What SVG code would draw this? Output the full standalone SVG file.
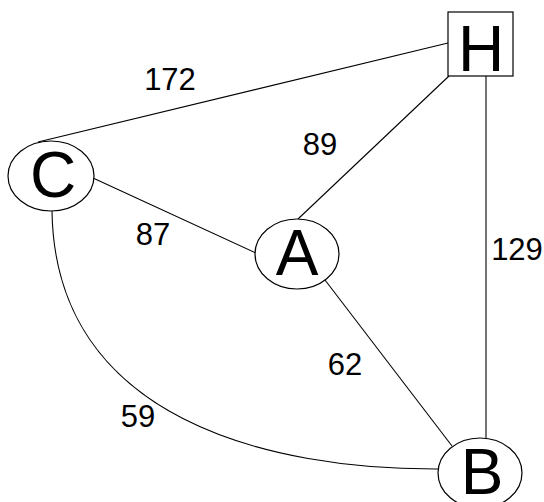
<svg xmlns="http://www.w3.org/2000/svg" width="544" height="502" viewBox="0 0 544 502">
<style>
.node{fill:#fff;stroke:#000;stroke-width:1.2}
.lbl{font-family:"Liberation Sans",Arial,sans-serif;font-size:64px;text-anchor:middle;fill:#000}
.w{font-family:"Liberation Sans",Arial,sans-serif;font-size:31px;text-anchor:middle;fill:#000}
.e{fill:none;stroke:#000;stroke-width:1.1}
</style>
<rect width="544" height="502" fill="#fff"/>
<g id="connectors">
<line class="e" x1="448" y1="43" x2="38" y2="142"/>
<line class="e" x1="449" y1="76" x2="298" y2="219"/>
<line class="e" x1="486" y1="76" x2="486" y2="438"/>
<line class="e" x1="93" y1="178" x2="256" y2="253"/>
<line class="e" x1="325" y1="280" x2="452" y2="446"/>
<path class="e" d="M52,211 C55,420 270,470 440,469"/>
<text class="w" x="170" y="90">172</text>
<text class="w" x="320" y="155">89</text>
<text class="w" x="153" y="245">87</text>
<text class="w" x="517" y="260">129</text>
<text class="w" x="345" y="375">62</text>
<text class="w" x="138" y="427">59</text>
</g>
<g id="H">
<rect class="node" x="448" y="12" width="65" height="64"/>
<text class="lbl" x="481" y="71">H</text>
</g>
<g id="C">
<ellipse class="node" cx="51" cy="176" rx="43" ry="35"/>
<text class="lbl" x="53" y="197">C</text>
</g>
<g id="A">
<ellipse class="node" cx="297" cy="254" rx="42" ry="35"/>
<text class="lbl" x="297" y="275">A</text>
</g>
<g id="B">
<ellipse class="node" cx="480" cy="473" rx="42" ry="35"/>
<text class="lbl" x="482" y="494">B</text>
</g>
</svg>
